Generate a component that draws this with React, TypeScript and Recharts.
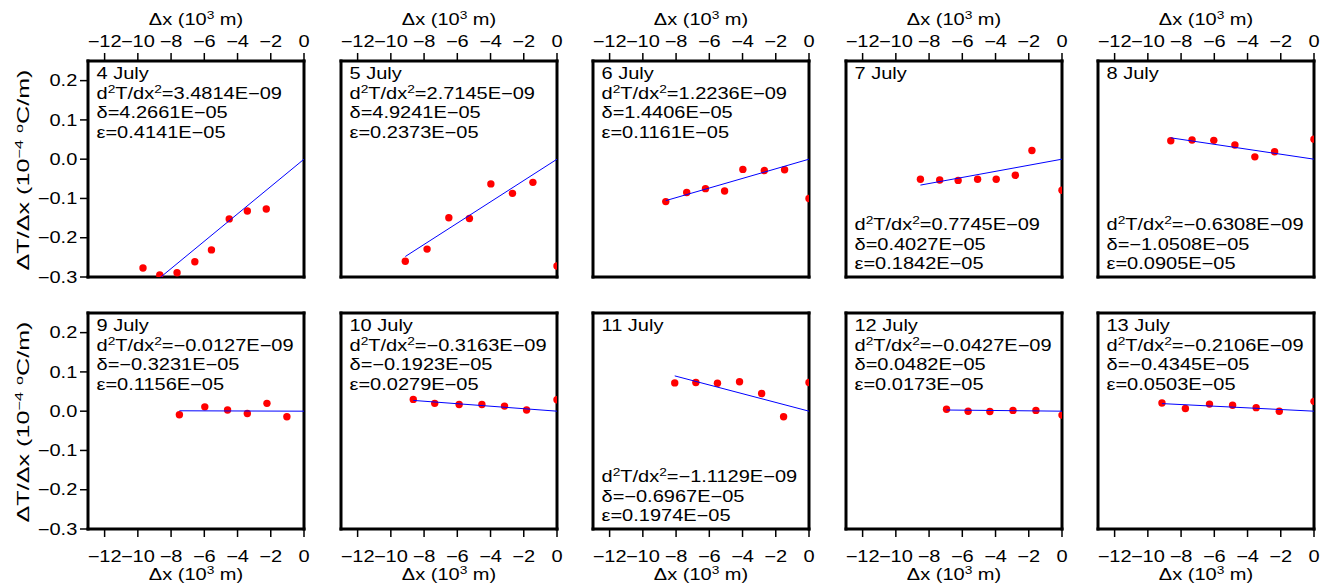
import React from 'react';
import { ScatterChart, Scatter, XAxis, YAxis, Customized } from 'recharts';

// ---- data ----
const days = ['4 July', '5 July', '6 July', '7 July', '8 July', '9 July', '10 July', '11 July', '12 July', '13 July'];
const d2Text = ['3.4814E\u221209', '2.7145E\u221209', '1.2236E\u221209', '0.7745E\u221209', '\u22120.6308E\u221209', '\u22120.0127E\u221209', '\u22120.3163E\u221209', '\u22121.1129E\u221209', '\u22120.0427E\u221209', '\u22120.2106E\u221209'];
const deltaText = ['4.2661E\u221205', '4.9241E\u221205', '1.4406E\u221205', '0.4027E\u221205', '\u22121.0508E\u221205', '\u22120.3231E\u221205', '\u22120.1923E\u221205', '\u22120.6967E\u221205', '0.0482E\u221205', '\u22120.4345E\u221205'];
const epsText = ['0.4141E\u221205', '0.2373E\u221205', '0.1161E\u221205', '0.1842E\u221205', '0.0905E\u221205', '0.1156E\u221205', '0.0279E\u221205', '0.1974E\u221205', '0.0173E\u221205', '0.0503E\u221205'];
const textAtBottom = [false, false, false, true, true, false, false, true, false, false];

const dx4 = [-9.69, -8.68, -7.64, -6.57, -5.57, -4.5, -3.41, -2.27];
const g4 = [-0.277, -0.295, -0.289, -0.261, -0.231, -0.152, -0.132, -0.127];
const dx5 = [-9.13, -7.82, -6.51, -5.27, -3.98, -2.68, -1.45, 0];
const g5 = [-0.26, -0.229, -0.149, -0.151, -0.063, -0.087, -0.059, -0.272];
const dx6 = [-8.62, -7.36, -6.23, -5.08, -3.98, -2.69, -1.47, 0];
const g6 = [-0.108, -0.085, -0.075, -0.081, -0.026, -0.029, -0.027, -0.1];
const dx7 = [-8.52, -7.36, -6.25, -5.08, -3.96, -2.81, -1.81, 0];
const g7 = [-0.051, -0.053, -0.054, -0.051, -0.051, -0.041, 0.022, -0.079];
const dx8 = [-8.62, -7.34, -6.03, -4.76, -3.56, -2.37, 0];
const g8 = [0.047, 0.049, 0.048, 0.036, 0.006, 0.019, 0.051];
const dx9 = [-7.5, -5.97, -4.6, -3.41, -2.23, -1.03];
const g9 = [-0.009, 0.011, 0.003, -0.006, 0.02, -0.014];
const dx10 = [-8.65, -7.36, -5.89, -4.52, -3.16, -1.83, 0];
const g10 = [0.03, 0.02, 0.017, 0.017, 0.013, 0.003, 0.029];
const dx11 = [-8.08, -6.81, -5.51, -4.18, -2.85, -1.53, 0];
const g11 = [0.072, 0.073, 0.071, 0.075, 0.045, -0.014, 0.073];
const dx12 = [-6.95, -5.65, -4.34, -2.95, -1.57, 0];
const g12 = [0.005, 0.0, -0.001, 0.002, 0.002, -0.01];
const dx13 = [-9.15, -7.74, -6.29, -4.9, -3.48, -2.09, 0];
const g13 = [0.021, 0.007, 0.018, 0.015, 0.009, 0.0, 0.025];

const allDx = [dx4, dx5, dx6, dx7, dx8, dx9, dx10, dx11, dx12, dx13];
const allG = [g4, g5, g6, g7, g8, g9, g10, g11, g12, g13];

// fitted line: from its start to the origin
const fitStartX = [-9.69, -9.13, -8.62, -8.52, -8.62, -7.5, -8.65, -8.08, -6.95, -9.15];
const fitStartY = [-0.3374, -0.2478, -0.1055, -0.066, 0.0544, 0.001, 0.0274, 0.0899, 0.003, 0.0193];
const fitEndX = [0, 0, 0, 0, 0, 0, 0, 0, 0, 0];
const fitEndY = [0, 0, 0, 0, 0, 0, 0, 0, 0, 0];

const xTicks = [-12, -10, -8, -6, -4, -2, 0];
const yTicks = [-0.3, -0.2, -0.1, 0, 0.1, 0.2];
const xDomain = [-13, 0];
const yDomain = [-0.3, 0.25];

// ---- layout ----
const plotLefts = [88, 341, 593, 846, 1098];
const plotTops = [61, 313];
const PW = 216;
const PH = 216;

const FONT = '"Liberation Sans", Arial, Helvetica, sans-serif';
const ts: React.CSSProperties = { fontFamily: FONT, fontSize: 16, fill: '#000' };
const SX = 1.25;
const frameLine = { stroke: '#000', strokeWidth: 3, strokeLinecap: 'square' as const };
const tickLn = { stroke: '#000', strokeWidth: 1.5 };

const fmtX = (v: number) => (v === 0 ? '0' : '\u2212' + Math.abs(v));
const fmtY = (v: number) => (v < 0 ? '\u2212' : '') + Math.abs(v).toFixed(1);

function ST({ x, y, anchor, children, sx = SX, rot = 0, size = 16 }: any) {
  return (
    <text
      transform={`translate(${x},${y})${rot ? ` rotate(${rot})` : ''} scale(${sx},1)`}
      x={0}
      y={0}
      textAnchor={anchor || 'start'}
      style={{ ...ts, fontSize: size }}
    >
      {children}
    </text>
  );
}

const TopTick = (p: any) => <ST x={p.x} y={p.y} anchor="middle">{fmtX(p.payload.value)}</ST>;
const BottomTick = (p: any) => <ST x={p.x} y={p.y + 11.5} anchor="middle">{fmtX(p.payload.value)}</ST>;
const LeftTick = (p: any) => <ST x={p.x} y={p.y + 5.7} anchor="end">{fmtY(p.payload.value)}</ST>;

const Dot = (p: any) => <circle cx={p.cx} cy={p.cy} r={3.7} fill="#ff0000" />;
const Empty = () => <g />;

const Sup = ({ children }: { children: React.ReactNode }) => (
  <tspan dy={-6} style={{ fontSize: 11 }}>{children}</tspan>
);

function XTitle({ x, y }: { x: number; y: number }) {
  return (
    <ST x={x} y={y} anchor="middle">
      {'\u0394x (10'}
      <Sup>3</Sup>
      <tspan dy={6}>{' m)'}</tspan>
    </ST>
  );
}

function YTitle({ x, y }: { x: number; y: number }) {
  return (
    <ST x={x} y={y} anchor="middle" rot={-90} sx={1.48} size={17}>
      {'\u0394T/\u0394x (10'}
      <Sup>{'\u22124'}</Sup>
      <tspan dy={6}>{' '}</tspan>
      <Sup>o</Sup>
      <tspan dy={6}>{'C/m)'}</tspan>
    </ST>
  );
}

function Annot({ i, LW, TH }: { i: number; LW: number; TH: number }) {
  const x = LW + 8.5;
  const lines = textAtBottom[i]
    ? [TH + PH - 47, TH + PH - 27.5, TH + PH - 8]
    : [TH + 37.5, TH + 57, TH + 76.5];
  return (
    <g>
      <ST x={x} y={TH + 18}>{days[i]}</ST>
      <ST x={x} y={lines[0]}>
        d<Sup>2</Sup>
        <tspan dy={6}>T/dx</tspan>
        <Sup>2</Sup>
        <tspan dy={6}>{'=' + d2Text[i]}</tspan>
      </ST>
      <ST x={x} y={lines[1]}>{'\u03b4=' + deltaText[i]}</ST>
      <ST x={x} y={lines[2]}>{'\u03b5=' + epsText[i]}</ST>
    </g>
  );
}

function Titles({ row, col, LW, TH }: { row: number; col: number; LW: number; TH: number }) {
  return (
    <g>
      {row === 0 ? <XTitle x={LW + PW / 2} y={TH - 36} /> : <XTitle x={LW + PW / 2} y={TH + PH + 51} />}
      {col === 0 ? <YTitle x={28.5} y={TH + PH / 2 + 1} /> : null}
    </g>
  );
}

function Panel({ i }: { i: number }) {
  const col = i % 5;
  const row = Math.floor(i / 5);
  const LW = col === 0 ? 88 : 30;
  const RW = 22;
  const TH = row === 0 ? 61 : 22;
  const BH = row === 0 ? 24 : 588 - plotTops[1] - PH;
  const W = LW + PW + RW;
  const H = TH + PH + BH;
  const pts = allDx[i].map((x, k) => ({ x, y: allG[i][k] }));
  const fit = [
    { x: fitStartX[i], y: fitStartY[i] },
    { x: fitEndX[i], y: fitEndY[i] },
  ];
  return (
    <div style={{ position: 'absolute', left: plotLefts[col] - LW, top: plotTops[row] - TH }}>
      <ScatterChart width={W} height={H} margin={{ top: 0, right: 0, bottom: 0, left: 0 }}>
        <XAxis
          xAxisId="b"
          orientation="bottom"
          type="number"
          dataKey="x"
          domain={xDomain}
          ticks={xTicks}
          interval={0}
          allowDataOverflow
          height={BH}
          axisLine={frameLine}
          tickLine={tickLn}
          tickSize={8}
          tickMargin={13}
          tick={row === 1 ? BottomTick : false}
        />
        <XAxis
          xAxisId="t"
          orientation="top"
          type="number"
          dataKey="x"
          domain={xDomain}
          ticks={xTicks}
          interval={0}
          allowDataOverflow
          height={TH}
          axisLine={frameLine}
          tickLine={tickLn}
          tickSize={8}
          tickMargin={6.3}
          tick={row === 0 ? TopTick : false}
        />
        <YAxis
          yAxisId="l"
          orientation="left"
          type="number"
          dataKey="y"
          domain={yDomain}
          ticks={yTicks}
          interval={0}
          allowDataOverflow
          width={LW}
          axisLine={frameLine}
          tickLine={tickLn}
          tickSize={8}
          tickMargin={2.7}
          tick={col === 0 ? LeftTick : false}
        />
        <YAxis
          yAxisId="r"
          orientation="right"
          type="number"
          dataKey="y"
          domain={yDomain}
          ticks={yTicks}
          interval={0}
          allowDataOverflow
          width={RW}
          axisLine={frameLine}
          tickLine={tickLn}
          tickSize={8}
          tick={false}
        />
        <Scatter xAxisId="b" yAxisId="l" data={pts} shape={Dot} isAnimationActive={false} />
        <Scatter
          xAxisId="b"
          yAxisId="l"
          data={fit}
          shape={Empty}
          line={{ stroke: '#0000ff', strokeWidth: 1 }}
          isAnimationActive={false}
        />
        <Customized component={<Annot i={i} LW={LW} TH={TH} />} />
        <Customized component={<Titles row={row} col={col} LW={LW} TH={TH} />} />
      </ScatterChart>
    </div>
  );
}

export default function App() {
  return (
    <div style={{ position: 'absolute', left: 0, top: 0, width: 1334, height: 588, background: '#fff', overflow: 'hidden' }}>
      {days.map((_, i) => (
        <Panel key={i} i={i} />
      ))}
    </div>
  );
}
